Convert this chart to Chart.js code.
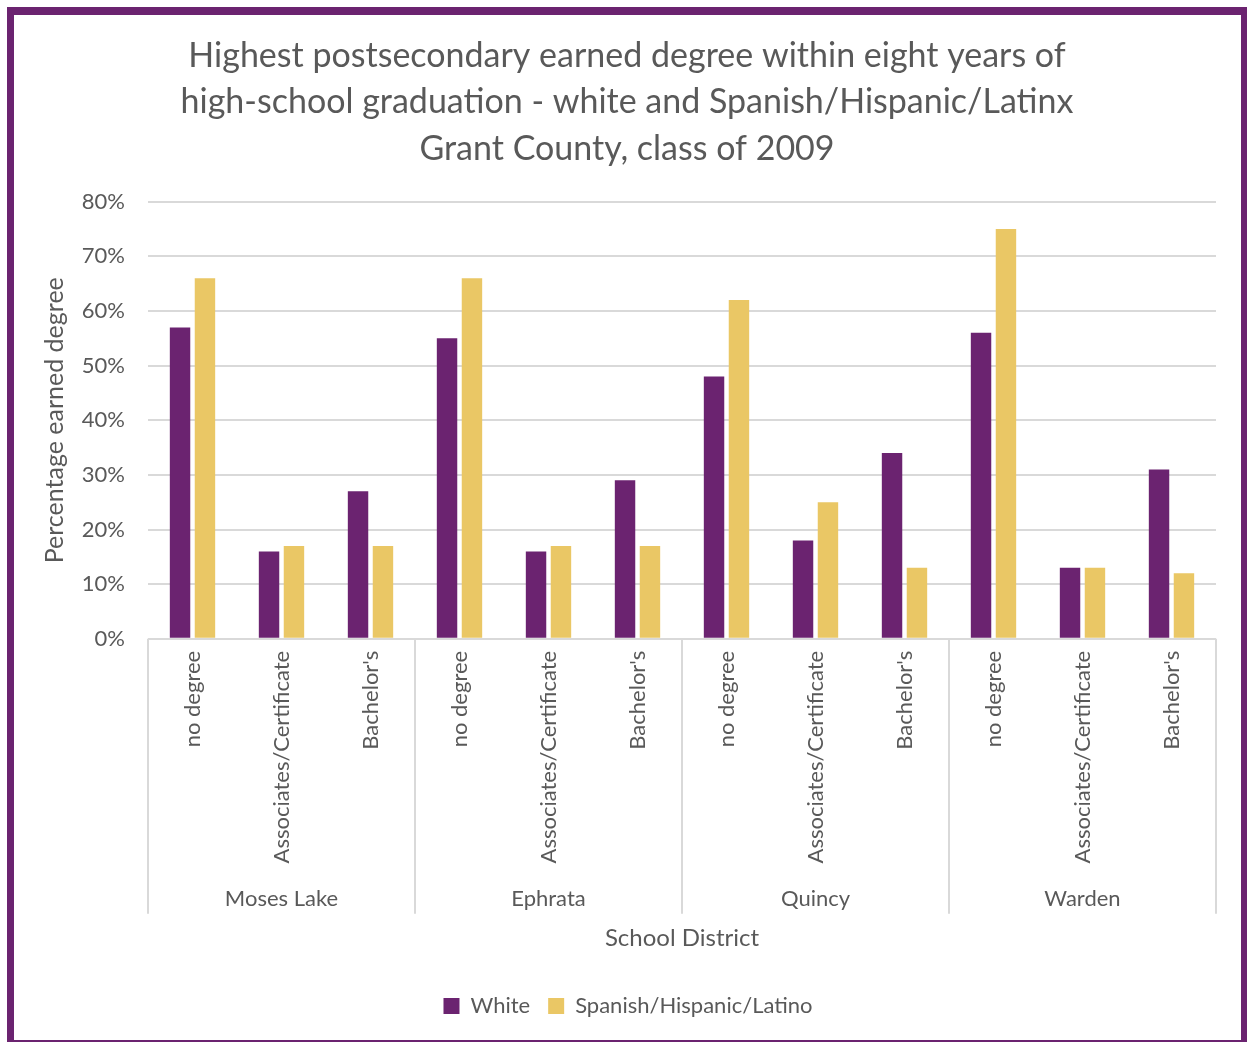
<!DOCTYPE html>
<html>
<head>
<meta charset="utf-8">
<script src="https://cdn.jsdelivr.net/npm/chart.js@4.4.1/dist/chart.umd.min.js"></script>
<style>
  html, body { margin: 0; padding: 0; background: #fff; overflow: hidden; }
  #frame {
    position: absolute; left: 7px; top: 7px; width: 1240px; height: 1041px;
    box-sizing: border-box; border: solid #6B2370;
    border-width: 8px 6px 8px 7px; background: #fff;
  }
  #wrap { position: absolute; left: 0; top: 0; width: 1227px; height: 1025px; }
</style>
</head>
<body>
<div id="frame"><div id="wrap"><canvas id="myChart"></canvas></div></div>
<script>
let districts = ["Moses Lake", "Ephrata", "Quincy", "Warden"];
let degrees = ["no degree", "Associates/Certificate", "Bachelor's"];
let whiteVals = [57, 16, 27, 55, 16, 29, 48, 18, 34, 56, 13, 31];
let latinoVals = [66, 17, 17, 66, 17, 17, 62, 25, 13, 75, 13, 12];
let yTicks = [0, 10, 20, 30, 40, 50, 60, 70, 80];

let labels = [];
for (let d = 0; d < districts.length; d++) {
    for (let g = 0; g < degrees.length; g++) {
        labels.push(degrees[g]);
    }
}

const fontName = "Lato, 'Open Sans', sans-serif";
const grey = "#595959";

// separator lines under the axis between school districts
const groupLines = {
    id: "groupLines",
    afterLayout(chart) {
        // title and legend are centred on the whole frame, not on the padded area
        chart.legend.left += 13;
        chart.legend.right += 13;
        chart.titleBlock.left += 12;
        chart.titleBlock.right += 12;
    },
    afterDraw(chart) {
        let ctx = chart.ctx;
        let xs = chart.scales.x;
        let x2 = chart.scales.x2;
        ctx.save();
        ctx.strokeStyle = "#D9D9D9";
        ctx.lineWidth = 2;
        for (let i = 0; i <= districts.length; i++) {
            let px = Math.round(xs.left + i * xs.width / districts.length);
            ctx.beginPath();
            ctx.moveTo(px, chart.chartArea.bottom);
            ctx.lineTo(px, x2.top + 44);
            ctx.stroke();
        }
        ctx.restore();
    }
};

new Chart("myChart", {
    type: "bar",
    data: {
        labels: labels,
        datasets: [{
            label: "White",
            data: whiteVals,
            backgroundColor: "#6B2370",
            categoryPercentage: 0.56,
            barPercentage: 0.82
        }, {
            label: "Spanish/Hispanic/Latino",
            data: latinoVals,
            backgroundColor: "#EAC765",
            categoryPercentage: 0.56,
            barPercentage: 0.82
        }]
    },
    options: {
        responsive: true,
        maintainAspectRatio: false,
        animation: false,
        layout: { padding: { left: 0, right: 25, bottom: 13 } },
        plugins: {
            title: {
                display: true,
                text: ["Highest postsecondary earned degree within eight years of",
                       "high-school graduation - white and Spanish/Hispanic/Latinx",
                       "Grant County, class of 2009"],
                color: grey,
                font: { family: fontName, size: 34, weight: "normal", lineHeight: 1.36 },
                padding: { top: 18, bottom: 30 }
            },
            legend: {
                position: "bottom",
                labels: {
                    color: grey,
                    font: { family: fontName, size: 22 },
                    boxWidth: 16,
                    boxHeight: 16,
                    padding: 18
                }
            },
            tooltip: { enabled: false }
        },
        scales: {
            x: {
                grid: { display: false },
                border: { display: false },
                ticks: {
                    color: grey,
                    font: { family: fontName, size: 22 },
                    maxRotation: 90,
                    minRotation: 90,
                    padding: 4,
                    autoSkip: false
                },
                afterFit(scale) { scale.height = 231; }
            },
            x2: {
                type: "category",
                position: "bottom",
                labels: districts,
                offset: true,
                grid: { display: false },
                border: { display: false },
                ticks: {
                    color: grey,
                    font: { family: fontName, size: 22 },
                    padding: 8
                },
                title: {
                    display: true,
                    text: "School District",
                    color: grey,
                    font: { family: fontName, size: 24 },
                    padding: { top: 4, bottom: 24 }
                }
            },
            y: {
                min: 0,
                max: 80,
                afterBuildTicks(scale) {
                    scale.ticks = yTicks.map(v => ({ value: v }));
                },
                grid: { color: "#D9D9D9", lineWidth: 2, drawTicks: false },
                border: { display: false },
                ticks: {
                    color: grey,
                    font: { family: fontName, size: 22 },
                    padding: 23,
                    callback: v => v + "%"
                },
                title: {
                    display: true,
                    text: "Percentage earned degree",
                    color: grey,
                    font: { family: fontName, size: 25 },
                    padding: { top: 26, bottom: 4 }
                },
                afterFit(scale) { scale.width = 134; }
            }
        }
    },
    plugins: [groupLines]
});
</script>
</body>
</html>
